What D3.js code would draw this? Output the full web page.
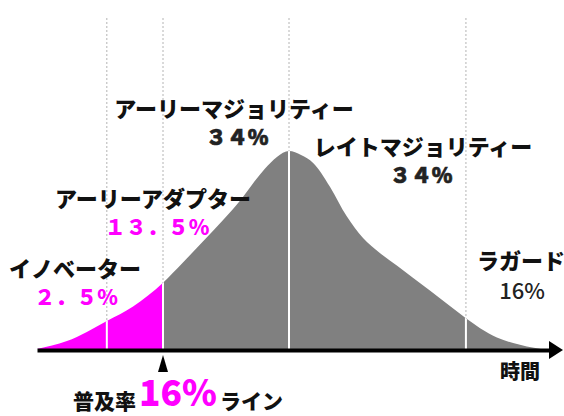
<!DOCTYPE html>
<html>
<head>
<meta charset="utf-8">
<script src="https://cdn.jsdelivr.net/npm/d3@7"></script>
<style>
  body { margin: 0; background: #fff; }
  svg { display: block; font-family: "Noto Sans CJK JP", sans-serif; }
</style>
</head>
<body>
<svg id="chart"></svg>
<script>
// adopter curve (time 0-100, peak = 100)
const times    = [0, 5.7, 13.3, 18.3, 24, 27.8, 31.6, 35.4, 38.7, 41.1, 43.4, 45.7, 48,
                  50.3, 52.6, 55.8, 59, 62.1, 65.3, 68.6, 71.6, 74.9, 78.1, 81.7, 84.4, 87.6, 90.7, 93.3, 96];
const adopters = [0, 4, 14.2, 21.5, 33.5, 43.7, 54.3, 65, 75, 83.5, 91, 97, 100,
                  98, 94, 82, 67, 56, 48.5, 42, 36, 29.4, 22.8, 15.5, 10.5, 5.8, 3, 1.3, 0];

// adopter categories
const segNames  = ["イノベーター", "アーリーアダプター", "アーリーマジョリティー", "レイトマジョリティー", "ラガード"];
const segShares = ["２．５%", "１３．５%", "３４%", "３４%", "16%"];
const segBounds = [0, 13.3, 24, 48, 81.7, 100];
const chasmIndex = 2;          // boundary of the 16% line
const chasmLabel = ["普及率", "16%", "ライン"];
const axisLabel = "時間";

const width = 564, height = 416;
const magenta = "#ff00ff", grey = "#808080";

const svg = d3.select("#chart").attr("width", width).attr("height", height);

const x = d3.scaleLinear().domain([0, 100]).range([37, 562]);
const y = d3.scaleLinear().domain([0, 100]).range([349, 151]);

const data = times.map((t, i) => ({t: t, v: adopters[i]}));

const area = d3.area()
    .x(d => x(d.t))
    .y0(y(0))
    .y1(d => y(d.v))
    .curve(d3.curveMonotoneX);

const defs = svg.append("defs");
defs.append("clipPath").attr("id", "clip-early")
  .append("rect")
    .attr("x", x(0)).attr("y", 0)
    .attr("width", x(segBounds[chasmIndex]) - x(0)).attr("height", height);
defs.append("clipPath").attr("id", "clip-late")
  .append("rect")
    .attr("x", x(segBounds[chasmIndex])).attr("y", 0)
    .attr("width", x(100) - x(segBounds[chasmIndex])).attr("height", height);
defs.append("clipPath").attr("id", "clip-area")
  .append("path").attr("d", area(data));

const inner = segBounds.slice(1, -1);

// dotted guide lines behind the curve
svg.append("g").selectAll("line")
  .data(inner)
  .join("line")
    .attr("x1", d => x(d)).attr("x2", d => x(d))
    .attr("y1", 18).attr("y2", y(0))
    .attr("stroke", "#b4b4b4")
    .attr("stroke-width", 1)
    .attr("stroke-dasharray", "2,2");

svg.append("path")
    .attr("d", area(data))
    .attr("fill", magenta)
    .attr("clip-path", "url(#clip-early)");
svg.append("path")
    .attr("d", area(data))
    .attr("fill", grey)
    .attr("clip-path", "url(#clip-late)");

// white separators inside the filled area
svg.append("g").attr("clip-path", "url(#clip-area)")
  .selectAll("line")
  .data(inner)
  .join("line")
    .attr("x1", d => x(d)).attr("x2", d => x(d))
    .attr("y1", 0).attr("y2", y(0))
    .attr("stroke", "#fff")
    .attr("stroke-width", 2);

// time axis with arrow
const xAxis = d3.axisBottom(x.copy().range([x(0), x(100) - 6]))
    .tickValues([])
    .tickSizeOuter(0);
const axisG = svg.append("g")
    .attr("transform", `translate(0,${y(0) + 1})`)
    .call(xAxis);
axisG.select(".domain").attr("stroke", "#000").attr("stroke-width", 4);
axisG.append("path")
    .attr("d", `M${x(100) - 13},-9L${x(100) + 1},0L${x(100) - 13},9Z`)
    .attr("fill", "#000");

svg.append("text")
    .attr("x", 520).attr("y", 379)
    .attr("text-anchor", "middle")
    .attr("font-size", 20).attr("font-weight", 900)
    .attr("fill", "#111")
    .text(axisLabel);

// category labels
const labelLayout = [
  {nx: 75,  ny: 277, px: 76,  py: 305, pc: magenta, pw: 900, ps: 21, sw: 0},
  {nx: 153, ny: 207, px: 157, py: 235, pc: magenta, pw: 900, ps: 21, sw: 0},
  {nx: 234, ny: 117, px: 237, py: 145, pc: "#222",  pw: 900, ps: 21, sw: 0.7},
  {nx: 423, ny: 155, px: 421, py: 183, pc: "#222",  pw: 900, ps: 21, sw: 0.7},
  {nx: 521, ny: 269, px: 522, py: 299, pc: "#222",  pw: 500, ps: 22, sw: 0}
];

const labels = svg.append("g").selectAll("g")
  .data(segNames)
  .join("g");

labels.append("text")
    .attr("x", (d, i) => labelLayout[i].nx)
    .attr("y", (d, i) => labelLayout[i].ny)
    .attr("text-anchor", "middle")
    .attr("font-size", 22).attr("font-weight", 900)
    .attr("fill", "#111")
    .text(d => d);

labels.append("text")
    .attr("x", (d, i) => labelLayout[i].px)
    .attr("y", (d, i) => labelLayout[i].py)
    .attr("text-anchor", "middle")
    .attr("font-size", (d, i) => labelLayout[i].ps)
    .attr("font-weight", (d, i) => labelLayout[i].pw)
    .attr("fill", (d, i) => labelLayout[i].pc)
    .attr("stroke", (d, i) => labelLayout[i].pc)
    .attr("stroke-width", (d, i) => labelLayout[i].sw)
    .text((d, i) => segShares[i]);

// 16% line marker
const cx = x(segBounds[chasmIndex]);
svg.append("path")
    .attr("d", `M${cx},355L${cx + 5},372L${cx - 5},372Z`)
    .attr("fill", "#000");

const chasm = svg.append("g");
chasm.append("text")
    .attr("x", 73).attr("y", 409)
    .attr("font-size", 21).attr("font-weight", 900)
    .attr("fill", "#111")
    .text(chasmLabel[0]);
chasm.append("text")
    .attr("x", 139).attr("y", 405.5)
    .attr("font-size", 36).attr("font-weight", 900)
    .attr("textLength", 78).attr("lengthAdjust", "spacingAndGlyphs")
    .attr("fill", magenta)
    .text(chasmLabel[1]);
chasm.append("text")
    .attr("x", 220).attr("y", 409)
    .attr("font-size", 21).attr("font-weight", 900)
    .attr("fill", "#111")
    .text(chasmLabel[2]);
</script>
</body>
</html>
